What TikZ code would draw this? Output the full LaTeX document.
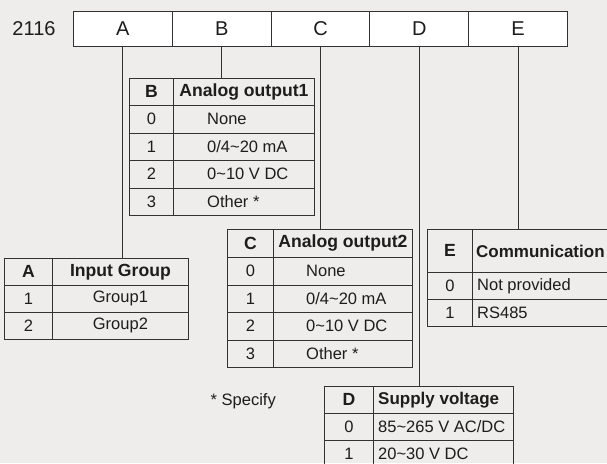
\documentclass[tikz,border=0pt]{standalone}
\usepackage{fontspec}
\setmainfont{Liberation Sans}
\usepackage{tikz}
\usepackage{xcolor}
\usetikzlibrary{positioning}

\definecolor{bggray}{RGB}{238,237,235}
\definecolor{linegray}{RGB}{50,50,50}
\definecolor{textgray}{RGB}{30,28,28}

\tikzset{
  codebox/.style={draw=linegray, fill=white, line width=1pt, minimum width=98.8pt,
    minimum height=35pt, inner sep=0pt, anchor=north west, text=textgray,
    font=\fontsize{20}{24}\selectfont},
  cell/.style 2 args={draw=linegray, line width=0.85pt, inner sep=0pt, anchor=north west,
    minimum width=#1, minimum height=#2, text=textgray, font=\fontsize{16.5}{19}\selectfont},
  headcell/.style 2 args={cell={#1}{#2}, font=\fontsize{17.6}{20}\selectfont\bfseries},
  valtext/.style={inner sep=0pt, text=textgray, font=\fontsize{16.5}{19}\selectfont},
  headtext/.style={valtext, font=\fontsize{17}{20}\selectfont\bfseries},
  stem/.style={draw=linegray, line width=0.85pt}
}

\begin{document}
\begin{tikzpicture}[x=1pt, y=-1pt]
        \fill[bggray] (0,0) rectangle (607,463);
        \useasboundingbox (0,0) rectangle (607,463);

        % model code
        \node[valtext, font=\fontsize{20}{24}\selectfont] (model) at (34,29) {2116};
        \node[codebox] (A) at (73,11) {A};
        \node[codebox] (B) at (171.8,11) {B};
        \node[codebox] (C) at (270.6,11) {C};
        \node[codebox] (D) at (369.4,11) {D};
        \node[codebox] (E) at (468.2,11) {E};

        % table A
        \node[headcell={48pt}{27pt}] (tA) at (4,258) {A};
        \node[headcell={136pt}{27pt}] (tAh) at (52,258) {Input Group};
        \node[cell={48pt}{27pt}] (tA1) at (4,285) {1};
        \node[cell={136pt}{27pt}] (tA1v) at (52,285) {Group1};
        \node[cell={48pt}{27pt}] (tA2) at (4,312) {2};
        \node[cell={136pt}{27pt}] (tA2v) at (52,312) {Group2};

        % table B
        \node[headcell={44pt}{27pt}] (tB) at (129,78) {B};
        \node[headcell={141pt}{27pt}] (tBh) at (173,78) {Analog output1};
        \node[cell={44pt}{27.5pt}] (tB0) at (129,105) {0};
        \node[cell={141pt}{27.5pt}] (tB0v) at (173,105) {};
        \node[cell={44pt}{27.5pt}] (tB1) at (129,132.5) {1};
        \node[cell={141pt}{27.5pt}] (tB1v) at (173,132.5) {};
        \node[cell={44pt}{27.5pt}] (tB2) at (129,160) {2};
        \node[cell={141pt}{27.5pt}] (tB2v) at (173,160) {};
        \node[cell={44pt}{27.5pt}] (tB3) at (129,187.5) {3};
        \node[cell={141pt}{27.5pt}] (tB3v) at (173,187.5) {};
        \node[valtext, right=34pt] (tB0t) at (tB0v.west) {None};
        \node[valtext, right=34pt] (tB1t) at (tB1v.west) {0/4\textasciitilde{}20 mA};
        \node[valtext, right=34pt] (tB2t) at (tB2v.west) {0\textasciitilde{}10 V DC};
        \node[valtext, right=34pt] (tB3t) at (tB3v.west) {Other *};

        % table C
        \node[headcell={46pt}{28pt}] (tC) at (227,229) {C};
        \node[headcell={139pt}{28pt}] (tCh) at (273,229) {Analog output2};
        \node[cell={46pt}{27.5pt}] (tC0) at (227,257) {0};
        \node[cell={139pt}{27.5pt}] (tC0v) at (273,257) {};
        \node[cell={46pt}{27.5pt}] (tC1) at (227,284.5) {1};
        \node[cell={139pt}{27.5pt}] (tC1v) at (273,284.5) {};
        \node[cell={46pt}{27.5pt}] (tC2) at (227,312) {2};
        \node[cell={139pt}{27.5pt}] (tC2v) at (273,312) {};
        \node[cell={46pt}{27.5pt}] (tC3) at (227,339.5) {3};
        \node[cell={139pt}{27.5pt}] (tC3v) at (273,339.5) {};
        \node[valtext, right=33pt] (tC0t) at (tC0v.west) {None};
        \node[valtext, right=33pt] (tC1t) at (tC1v.west) {0/4\textasciitilde{}20 mA};
        \node[valtext, right=33pt] (tC2t) at (tC2v.west) {0\textasciitilde{}10 V DC};
        \node[valtext, right=33pt] (tC3t) at (tC3v.west) {Other *};

        % table D
        \node[headcell={49pt}{27pt}] (tD) at (324,386) {D};
        \node[headcell={140pt}{27pt}] (tDh) at (373,386) {};
        \node[cell={49pt}{27pt}] (tD0) at (324,413) {0};
        \node[cell={140pt}{27pt}] (tD0v) at (373,413) {};
        \node[cell={49pt}{27pt}] (tD1) at (324,440) {1};
        \node[cell={140pt}{27pt}] (tD1v) at (373,440) {};
        \node[headtext, right=5pt] (tDht) at (tDh.west) {Supply voltage};
        \node[valtext, right=5pt] (tD0t) at (tD0v.west) {85\textasciitilde{}265 V AC/DC};
        \node[valtext, right=5pt] (tD1t) at (tD1v.west) {20\textasciitilde{}30 V DC};

        % table E
        \node[headcell={45pt}{43pt}] (tE) at (427,229) {E};
        \node[headcell={150pt}{43pt}] (tEh) at (472,229) {};
        \node[cell={45pt}{27pt}] (tE0) at (427,272) {0};
        \node[cell={150pt}{27pt}] (tE0v) at (472,272) {};
        \node[cell={45pt}{27pt}] (tE1) at (427,299) {1};
        \node[cell={150pt}{27pt}] (tE1v) at (472,299) {};
        \node[headtext, right=4pt] (tEht) at (tEh.west) {Communication};
        \node[valtext, right=5pt] (tE0t) at (tE0v.west) {Not provided};
        \node[valtext, right=5pt] (tE1t) at (tE1v.west) {RS485};

        \node[valtext, anchor=east] (note) at (276,401) {* Specify};

        % stems from code boxes down to tables
        \draw[stem] (A.south) -- (A.south |- tAh.north);
        \draw[stem] (B.south) -- (B.south |- tBh.north);
        \draw[stem] (C.south) -- (C.south |- tCh.north);
        \draw[stem] (D.south) -- (D.south |- tDh.north);
        \draw[stem] (E.south) -- (E.south |- tEh.north);
\end{tikzpicture}
\end{document}
